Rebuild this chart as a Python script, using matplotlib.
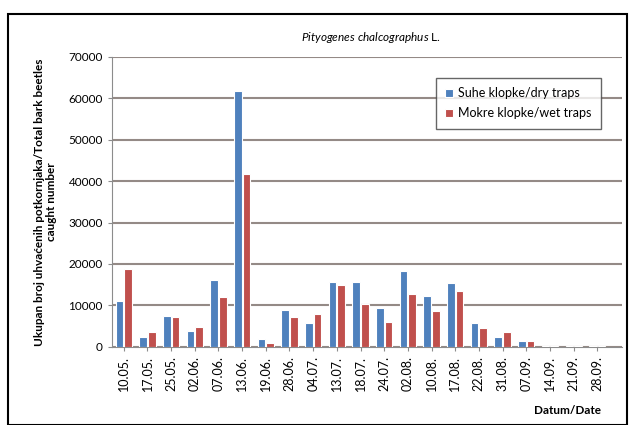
import numpy as np
import matplotlib.pyplot as plt
from matplotlib.patches import Rectangle

plt.rcParams['font.family'] = ['Lato', 'DejaVu Sans']
plt.rcParams['mathtext.fontset'] = 'custom'
plt.rcParams['mathtext.it'] = 'Lato:italic'
plt.rcParams['mathtext.rm'] = 'Lato'

dates = ['10.05.', '17.05.', '25.05.', '02.06.', '07.06.', '13.06.', '19.06.',
         '28.06.', '04.07.', '13.07.', '18.07.', '24.07.', '02.08.', '10.08.',
         '17.08.', '22.08.', '31.08.', '07.09.', '14.09.', '21.09.', '28.09.']
dry = [11000, 2400, 7400, 3800, 16100, 61800, 1800, 9000, 5800, 15700, 15600,
       9300, 18300, 12200, 15500, 5700, 2300, 1300, 200, 200, 200]
wet = [18700, 3500, 7200, 4700, 12000, 41800, 800, 7200, 8000, 14900, 10300,
       5900, 12800, 8700, 13500, 4600, 3500, 1300, 100, 200, 200]

fig = plt.figure(figsize=(6.29, 4.25), dpi=100)
ax = fig.add_axes([0.178, 0.184, 0.811, 0.682])

x = np.arange(len(dates))
w = 0.32
ax.bar(x - w/2 - 0.02, dry, w, color='#4F81BD', edgecolor='white', linewidth=0.8,
       label='Suhe klopke/dry traps', zorder=3)
ax.bar(x + w/2 + 0.02, wet, w, color='#C0504D', edgecolor='white', linewidth=0.8,
       label='Mokre klopke/wet traps', zorder=3)

ax.set_ylim(0, 70000)
ax.set_yticks(np.arange(0, 70001, 10000))
ax.set_xlim(-0.5, len(dates) - 0.5 + 0.55)
ax.set_xticks(x)
ax.set_xticklabels(dates, rotation=90, fontsize=9)
ax.tick_params(axis='y', labelsize=8.5, length=3, color='#8c8c8c')
ax.tick_params(axis='x', length=3, color='#8c8c8c')
ax.grid(axis='y', color='#948a86', linewidth=1.5, zorder=0)
for s in ['top', 'right']:
    ax.spines[s].set_visible(False)
ax.spines['left'].set_color('#8c8c8c')
ax.spines['bottom'].set_color('#8c8c8c')

ax.set_ylabel('Ukupan broj uhvaćenih potkornjaka/Total bark beetles\ncaught number',
              fontsize=8.5, fontweight='bold', labelpad=8)
fig.text(0.59, 0.912, r'$\it{Pityogenes\ chalcographus}$ L.', ha='center', va='center',
         fontsize=8.5)
fig.text(0.955, 0.035, 'Datum/Date', ha='right', va='center', fontsize=8.5,
         fontweight='bold')

leg = ax.legend(loc='upper right', bbox_to_anchor=(0.97, 0.95), fontsize=9,
                frameon=True, fancybox=False, handlelength=0.6, handleheight=0.6,
                borderpad=0.75, labelspacing=0.65, handletextpad=0.4)
leg.get_frame().set_edgecolor('#404040')
leg.get_frame().set_linewidth(1.0)

fig.patches.append(Rectangle((0.012, 0.0), 0.985, 0.968, transform=fig.transFigure,
                             fill=False, edgecolor='black', linewidth=1.5))

fig.savefig('out.png', dpi=100)
